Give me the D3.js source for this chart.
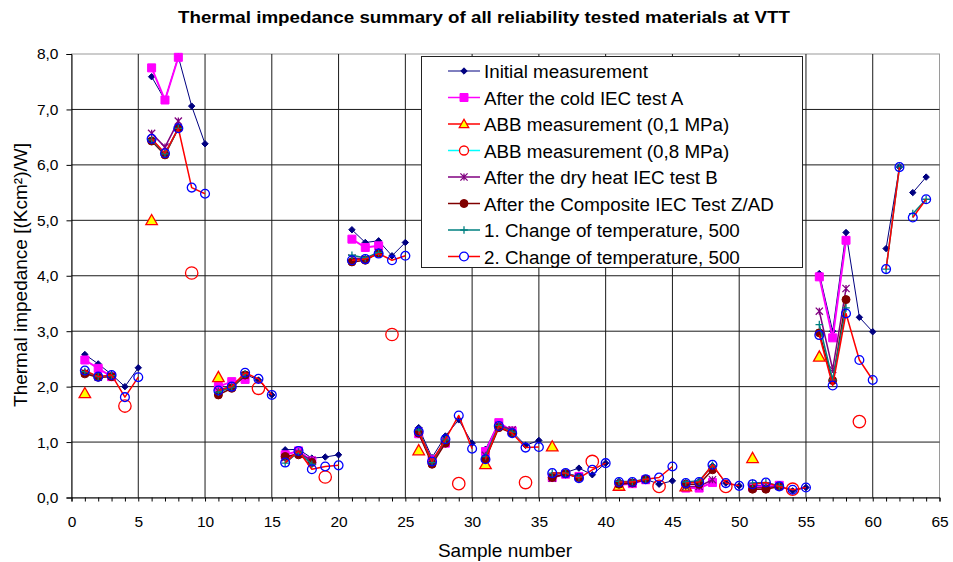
<!DOCTYPE html>
<html>
<head>
<meta charset="utf-8">
<script src="https://cdn.jsdelivr.net/npm/d3@7"></script>
<style>
  html, body { margin: 0; padding: 0; background: #fff; }
  svg { display: block; font-family: "Liberation Sans", Arial, sans-serif; }
</style>
</head>
<body>
<svg id="chart" width="953" height="562"></svg>
<script>
const N = null;

// Sample numbers 1..64; each series holds one value per sample (null = not measured)
const samples = d3.range(1, 65);

// Material groups: samples inside a group are joined by lines
const materialGroups = [[1, 5], [6, 10], [11, 15], [16, 20], [21, 25], [26, 30], [31, 35],
  [36, 40], [41, 45], [46, 50], [51, 55], [56, 60], [61, 62], [63, 64]];

const initialMeasurement = [
  2.58, 2.41, 2.22, 2.00, 2.34,
  7.59, 7.17, 7.95, 7.06, 6.38,
  1.95, 2.00, 2.22, 2.12, 1.85,
  0.86, 0.87, 0.71, 0.73, 0.77,
  4.83, 4.60, 4.63, 4.36, 4.60,
  1.26, 0.72, 1.11, 1.40, 0.98,
  0.87, 1.35, 1.19, 0.94, 1.03,
  0.40, 0.45, 0.53, 0.41, 0.62,
  0.29, 0.27, 0.33, 0.24, 0.30,
  0.26, 0.29, 0.57, 0.26, 0.21,
  0.22, 0.22, 0.20, 0.12, 0.18,
  4.04, 3.00, 4.78, 3.25, 2.99,
  4.49, 5.96, 5.50, 5.78
];

const coldTestA = [
  2.48, 2.33, 2.18, N, N,
  7.75, 7.17, 7.94, N, N,
  2.00, 2.09, 2.13, N, N,
  0.77, 0.84, 0.66, N, N,
  4.66, 4.51, 4.54, N, N,
  1.15, 0.68, 0.98, N, N,
  0.83, 1.35, 1.20, N, N,
  0.36, 0.42, 0.38, N, N,
  0.23, 0.25, 0.32, N, N,
  0.17, 0.17, 0.27, N, N,
  0.19, 0.20, 0.22, N, N,
  3.98, 2.88, 4.64, N, N,
  N, N, N, N
];

const abb01MPa = [
  1.88, N, N, N, N,
  5.00, N, N, N, N,
  2.17, N, N, N, N,
  N, N, N, N, N,
  N, N, N, N, N,
  0.85, N, N, N, N,
  0.60, N, N, N, N,
  0.92, N, N, N, N,
  0.21, N, N, N, N,
  0.20, N, N, N, N,
  0.71, N, N, N, N,
  2.54, N, N, N, N,
  N, N, N, N
];

const abb08MPa = [
  N, N, N, 1.65, N,
  N, N, N, 4.05, N,
  N, N, N, 1.97, N,
  N, N, N, 0.37, N,
  N, N, N, 2.94, N,
  N, N, N, 0.25, N,
  N, N, N, 0.27, N,
  N, N, N, 0.65, N,
  N, N, N, 0.20, N,
  N, N, N, 0.20, N,
  N, N, N, 0.15, N,
  N, N, N, 1.37, N,
  N, N, N, N
];

const dryHeatTestB = [
  2.25, 2.17, 2.19, N, N,
  6.57, 6.32, 6.79, N, N,
  1.92, 1.99, 2.20, N, N,
  0.72, 0.80, 0.67, N, N,
  4.32, 4.30, 4.42, N, N,
  1.20, 0.66, 1.02, N, N,
  0.76, 1.30, 1.22, N, N,
  0.35, 0.43, 0.37, N, N,
  0.25, 0.26, 0.32, N, N,
  0.20, 0.20, 0.32, N, N,
  0.17, 0.18, 0.20, N, N,
  3.36, 2.31, 3.77, N, N,
  N, N, N, N
];

const compositeTestZAD = [
  2.23, 2.17, 2.18, N, N,
  6.43, 6.18, 6.66, N, N,
  1.85, 1.97, 2.21, N, N,
  0.74, 0.77, 0.63, N, N,
  4.25, 4.28, 4.41, N, N,
  1.16, 0.60, 0.98, N, N,
  0.69, 1.26, 1.16, N, N,
  0.36, 0.43, 0.36, N, N,
  0.24, 0.26, 0.33, N, N,
  0.24, 0.24, 0.50, N, N,
  0.15, 0.15, 0.20, N, N,
  2.97, 2.11, 3.57, N, N,
  N, N, N, N
];

const changeOfTemp1 = [
  2.27, 2.18, 2.20, N, N,
  6.45, 6.20, 6.66, N, N,
  1.90, 1.99, 2.23, N, N,
  0.62, 0.82, 0.60, N, N,
  4.37, 4.32, 4.42, N, N,
  1.22, 0.63, 1.04, N, N,
  0.74, 1.30, 1.18, N, N,
  0.44, 0.44, 0.37, N, N,
  0.29, 0.29, 0.33, N, N,
  0.28, 0.30, 0.58, N, N,
  0.26, 0.27, 0.21, N, N,
  3.12, 2.12, 3.42, N, N,
  4.12, 5.96, 5.12, 5.38
];

const changeOfTemp2 = [
  2.29, 2.18, 2.21, 1.81, 2.17,
  6.47, 6.21, 6.66, 5.59, 5.48,
  1.93, 2.00, 2.25, 2.14, 1.85,
  0.63, 0.84, 0.51, 0.56, 0.58,
  4.28, 4.30, 4.40, 4.28, 4.36,
  1.19, 0.65, 1.05, 1.48, 0.88,
  0.69, 1.29, 1.16, 0.90, 0.91,
  0.44, 0.44, 0.35, 0.50, 0.62,
  0.28, 0.28, 0.33, 0.36, 0.56,
  0.26, 0.28, 0.59, 0.26, 0.21,
  0.24, 0.27, 0.20, 0.14, 0.18,
  2.93, 2.02, 3.32, 2.48, 2.12,
  4.12, 5.96, 5.05, 5.38
];

const seriesNames = [
  "Initial measurement",
  "After the cold IEC test A",
  "ABB measurement (0,1 MPa)",
  "ABB measurement (0,8 MPa)",
  "After the dry heat IEC test B",
  "After the Composite IEC Test Z/AD",
  "1. Change of temperature, 500",
  "2. Change of temperature, 500"
];
const seriesValues = [initialMeasurement, coldTestA, abb01MPa, abb08MPa,
  dryHeatTestB, compositeTestZAD, changeOfTemp1, changeOfTemp2];

const xTicks = d3.range(0, 66, 5);
const yTicks = d3.range(0, 9, 1);

// Marker paths centred on (0,0)
const markerPath = {
  diamond: r => `M0,${-r}L${r},0L0,${r}L${-r},0Z`,
  square: r => `M${-r},${-r}H${r}V${r}H${-r}Z`,
  triangle: r => `M0,${-r * 1.05}L${r * 1.05},${r * 0.8}L${-r * 1.05},${r * 0.8}Z`,
  circle: r => `M${r},0A${r},${r} 0 1,1 ${-r},0A${r},${r} 0 1,1 ${r},0Z`,
  star: r => `M${-r},${-r}L${r},${r}M${r},${-r}L${-r},${r}M0,${-r}V${r}`,
  plus: r => `M${-r},0H${r}M0,${-r}V${r}`
};

const styles = [
  { line: "#000080", lw: 1, shape: "diamond", r: 3.2, fill: "#000080", stroke: "#000080", sw: 1 },
  { line: "#FF00FF", lw: 2, shape: "square", r: 4, fill: "#FF00FF", stroke: "#FF00FF", sw: 1 },
  { line: "#FF0000", lw: 1.5, shape: "triangle", r: 5.5, fill: "#FFFF00", stroke: "#FF0000", sw: 1.3 },
  { line: "#00FFFF", lw: 1.5, shape: "circle", r: 6.2, fill: "none", stroke: "#FF0000", sw: 1.3 },
  { line: "#800080", lw: 1.5, shape: "star", r: 3.6, fill: "none", stroke: "#800080", sw: 1.3 },
  { line: "#800000", lw: 1.5, shape: "circle", r: 4, fill: "#800000", stroke: "#800000", sw: 1 },
  { line: "#008080", lw: 1.5, shape: "plus", r: 3.8, fill: "none", stroke: "#008080", sw: 1.3 },
  { line: "#FF0000", lw: 1.5, shape: "circle", r: 4.4, fill: "none", stroke: "#0000FF", sw: 1.3 }
];

const margin = { left: 71.5, right: 939.5, top: 54, bottom: 497.5 };
const svg = d3.select("#chart");

const x = d3.scaleLinear().domain([0, 65]).range([margin.left, margin.right]);
const y = d3.scaleLinear().domain([0, 8]).range([margin.bottom, margin.top]);

// Title
svg.append("text")
  .attr("x", 484).attr("y", 23)
  .attr("text-anchor", "middle")
  .attr("font-size", 16.5).attr("font-weight", "bold")
  .attr("textLength", 612).attr("lengthAdjust", "spacingAndGlyphs")
  .text("Thermal impedance summary of all reliability tested materials at VTT");

// Plot area frame
svg.append("rect")
  .attr("x", margin.left).attr("y", margin.top)
  .attr("width", margin.right - margin.left).attr("height", margin.bottom - margin.top)
  .attr("fill", "#fff").attr("stroke", "#9a9a9a").attr("stroke-width", 1);

// Gridlines
const grid = svg.append("g");
grid.selectAll("line.h").data(yTicks.filter(v => v > 0 && v < 8)).join("line")
  .attr("x1", margin.left).attr("x2", margin.right)
  .attr("y1", d => y(d)).attr("y2", d => y(d))
  .attr("stroke", "#1a1a1a").attr("stroke-width", 1);
grid.selectAll("line.v").data(xTicks.filter(v => v > 0 && v < 65)).join("line")
  .attr("y1", margin.top).attr("y2", margin.bottom)
  .attr("x1", d => x(d)).attr("x2", d => x(d))
  .attr("stroke", "#1a1a1a").attr("stroke-width", 1);

// Axes
const xAxis = svg.append("g").attr("transform", `translate(0,${margin.bottom})`)
  .call(d3.axisBottom(x).tickValues(d3.range(0, 66, 1)).tickSize(4).tickFormat(d => d % 5 === 0 ? d : ""));
xAxis.select(".domain").attr("stroke", "#000");
xAxis.selectAll(".tick line").attr("stroke", "#000");
xAxis.selectAll(".tick text").attr("font-size", 15.5).attr("font-family", "Liberation Sans, Arial, sans-serif")
  .attr("fill", "#000").attr("y", 18.5);

const yAxis = svg.append("g").attr("transform", `translate(${margin.left},0)`)
  .call(d3.axisLeft(y).tickValues(yTicks).tickSize(5).tickFormat(d => d3.format(".1f")(d).replace(".", ",")));
yAxis.select(".domain").attr("stroke", "#000");
yAxis.selectAll(".tick line").attr("stroke", "#000");
yAxis.selectAll(".tick text").attr("font-size", 15.5).attr("font-family", "Liberation Sans, Arial, sans-serif")
  .attr("fill", "#000").attr("x", -13);

// Axis titles
svg.append("text")
  .attr("x", 505).attr("y", 557)
  .attr("text-anchor", "middle").attr("font-size", 19)
  .text("Sample number");
svg.append("text")
  .attr("transform", "translate(27,275) rotate(-90)")
  .attr("text-anchor", "middle").attr("font-size", 19)
  .text("Thermal impedance [(Kcm²)/W]");

// Series lines and markers
const lineGen = d3.line()
  .defined(d => d.v !== null)
  .x(d => x(d.s)).y(d => y(d.v));

const plot = svg.append("g");
seriesValues.forEach((vals, i) => {
  const st = styles[i];
  const pts = samples.map((s, k) => ({ s, v: vals[k] }));
  const g = plot.append("g");
  materialGroups.forEach(([a, b]) => {
    const seg = pts.filter(p => p.s >= a && p.s <= b);
    g.append("path")
      .attr("d", lineGen(seg))
      .attr("fill", "none")
      .attr("stroke", st.line)
      .attr("stroke-width", st.lw)
      .attr("stroke-linejoin", "round");
  });
  g.selectAll("path.marker").data(pts.filter(p => p.v !== null)).join("path")
    .attr("class", "marker")
    .attr("transform", d => `translate(${x(d.s)},${y(d.v)})`)
    .attr("d", markerPath[st.shape](st.r))
    .attr("fill", st.fill)
    .attr("stroke", st.stroke)
    .attr("stroke-width", st.sw);
});

// Legend
const legend = svg.append("g");
legend.append("rect")
  .attr("x", 421.5).attr("y", 56.5).attr("width", 381).attr("height", 211)
  .attr("fill", "#fff").attr("stroke", "#222").attr("stroke-width", 1);
const rows = legend.selectAll("g.row").data(seriesNames).join("g")
  .attr("transform", (d, i) => `translate(0,${71 + i * 26.5})`);
rows.append("line")
  .attr("x1", 448).attr("x2", 480).attr("y1", 0).attr("y2", 0)
  .attr("stroke", (d, i) => styles[i].line)
  .attr("stroke-width", (d, i) => Math.min(styles[i].lw, 1.5));
rows.append("path")
  .attr("transform", "translate(464,0)")
  .attr("d", (d, i) => markerPath[styles[i].shape](Math.min(styles[i].r, 4.5)))
  .attr("fill", (d, i) => styles[i].fill === "none" ? "#fff" : styles[i].fill)
  .attr("stroke", (d, i) => styles[i].stroke)
  .attr("stroke-width", (d, i) => styles[i].sw);
rows.append("text")
  .attr("x", 484).attr("y", 7)
  .attr("font-size", 18.8)
  .text(d => d);
</script>
</body>
</html>
